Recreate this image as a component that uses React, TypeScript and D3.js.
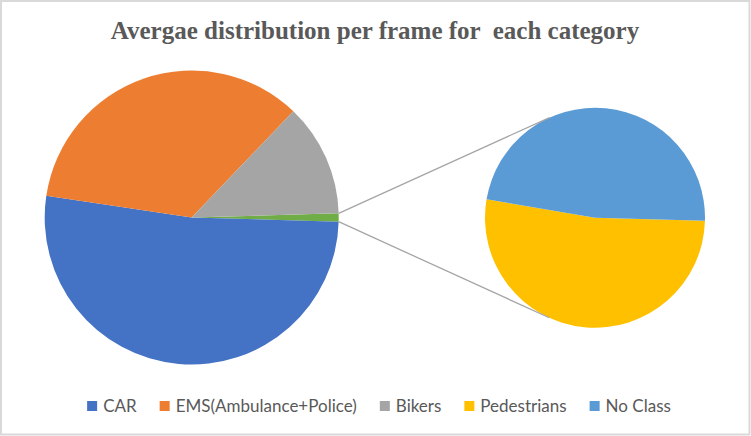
import React, { useEffect, useRef } from 'react';
import * as d3 from 'd3';

// main pie slices (percent of all detections per frame)
const mainCategories = ['CAR', 'EMS(Ambulance+Police)', 'Bikers'];
const mainValues = [51.9, 34.8, 12.4];
// split out into the small pie
const subCategories = ['Pedestrians', 'No Class'];
const subValues = [0.47, 0.43];

const legendLabels = [...mainCategories, ...subCategories];
const colors = ['#4472C4', '#ED7D31', '#A5A5A5', '#FFC000', '#5B9BD5'];
const otherColor = '#70AD47';

const titleText = 'Avergae distribution per frame for  each category';

export default function App() {
  const ref = useRef<SVGSVGElement | null>(null);

  const createChart = () => {
    const width = 751;
    const height = 436;
    const svg = d3.select(ref.current);
    svg.selectAll('*').remove();

    svg
      .append('rect')
      .attr('x', 1)
      .attr('y', 1)
      .attr('width', width - 2.5)
      .attr('height', height - 2.5)
      .style('fill', 'white')
      .style('stroke', '#d9d9d9')
      .style('stroke-width', 2);

    svg
      .append('text')
      .attr('x', 375)
      .attr('y', 39)
      .style('font-family', '"Liberation Serif", "Times New Roman", serif')
      .style('font-weight', 'bold')
      .style('font-size', '25px')
      .style('fill', '#595959')
      .style('text-anchor', 'middle')
      .style('white-space', 'pre')
      .text(titleText);

    const otherTotal = d3.sum(subValues);
    const mainData = [
      { name: 'Other', value: otherTotal, color: otherColor },
      ...mainCategories.map((c, i) => ({ name: c, value: mainValues[i], color: colors[i] })),
    ];
    const total = d3.sum(mainData, (d) => d.value);
    const otherAngle = (otherTotal / total) * 2 * Math.PI;
    const start = Math.PI / 2 - otherAngle / 2;

    const main = { cx: 191.7, cy: 217.5, r: 147 };
    const sub = { cx: 595, cy: 217.7, r: 110 };

    const pieMain = d3
      .pie<any>()
      .sort(null)
      .value((d) => d.value)
      .startAngle(start)
      .endAngle(start + 2 * Math.PI);

    const arcMain = d3.arc<any>().innerRadius(0).outerRadius(main.r);

    const gMain = svg.append('g').attr('transform', `translate(${main.cx},${main.cy})`);
    gMain
      .selectAll('path')
      .data(pieMain(mainData))
      .enter()
      .append('path')
      .attr('d', arcMain)
      .style('fill', (d) => d.data.color);

    const subData = subCategories.map((c, i) => ({ name: c, value: subValues[i], color: colors[3 + i] }));
    const subStart = Math.PI / 2 + otherAngle / 2;
    const pieSub = d3
      .pie<any>()
      .sort(null)
      .value((d) => d.value)
      .startAngle(subStart)
      .endAngle(subStart + 2 * Math.PI);
    const arcSub = d3.arc<any>().innerRadius(0).outerRadius(sub.r);

    const gSub = svg.append('g').attr('transform', `translate(${sub.cx},${sub.cy})`);
    gSub
      .selectAll('path')
      .data(pieSub(subData))
      .enter()
      .append('path')
      .attr('d', arcSub)
      .style('fill', (d) => d.data.color);

    // connector lines: from ends of the "other" slice, tangent to the small pie
    const ends = [start, start + otherAngle].map((a) => [
      main.cx + main.r * Math.sin(a),
      main.cy - main.r * Math.cos(a),
    ]);
    ends.forEach((p, i) => {
      const dx = p[0] - sub.cx;
      const dy = p[1] - sub.cy;
      const dist = Math.sqrt(dx * dx + dy * dy);
      const theta = Math.atan2(dy, dx);
      const t = theta + (i === 0 ? 1 : -1) * Math.acos(sub.r / dist);
      svg
        .append('line')
        .attr('x1', p[0])
        .attr('y1', p[1])
        .attr('x2', sub.cx + sub.r * Math.cos(t))
        .attr('y2', sub.cy + sub.r * Math.sin(t))
        .style('stroke', '#a5a5a5')
        .style('stroke-width', 1.3);
    });

    // legend
    const legend = svg.append('g').attr('class', 'legend');
    const marker = 10;
    const gapText = 6;
    const gapItem = 23;
    const items = legendLabels.map((label, i) => {
      const g = legend.append('g');
      g.append('rect')
        .attr('width', marker)
        .attr('height', marker)
        .attr('y', -11)
        .style('fill', colors[i]);
      const t = g
        .append('text')
        .attr('x', marker + gapText)
        .attr('y', 0)
        .style('font-family', 'Lato, "Noto Sans", sans-serif')
        .style('font-size', '17px')
        .style('fill', '#595959')
        .text(label);
      const w = marker + gapText + (t.node() as SVGTextElement).getComputedTextLength();
      return { g, w };
    });
    const totalW = d3.sum(items, (d) => d.w) + gapItem * (items.length - 1);
    let x = 379 - totalW / 2;
    items.forEach((it) => {
      it.g.attr('transform', `translate(${x},412)`);
      x += it.w + gapItem;
    });
  };

  useEffect(() => {
    createChart();
  }, []);

  return (
    <div style={{ position: 'absolute', left: 0, top: 0 }}>
      <svg ref={ref} width={751} height={436} style={{ display: 'block' }} />
    </div>
  );
}
